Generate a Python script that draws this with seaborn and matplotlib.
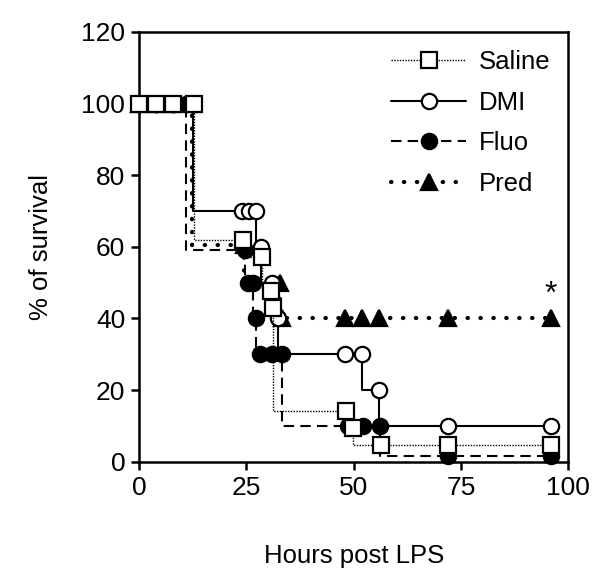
import numpy as np
import pandas as pd
import matplotlib
matplotlib.use("Agg")
import matplotlib.pyplot as plt
import seaborn as sns

# survival data (hours, % survival)
saline_t = [0, 4, 8, 12.8, 24.2, 28.6, 30.7, 31.3, 48.3, 49.9, 56.3, 72, 96]
saline_s = [100, 100, 100, 100, 61.9, 57.1, 47.6, 42.9, 14.3, 9.5, 4.8, 4.8, 4.8]

dmi_t = [0, 4, 8, 12.5, 24.1, 25.6, 27.2, 28.3, 31, 32.3, 48, 52, 56, 72, 96]
dmi_s = [100, 100, 100, 100, 70, 70, 70, 60, 50, 40, 30, 30, 20, 10, 10]

fluo_t = [0, 4, 8, 11, 24.6, 25.5, 26.5, 27.2, 28.2, 30.9, 33.2, 48.7, 52.2, 56.1, 72, 96]
fluo_s = [100, 100, 100, 100, 59, 50, 50, 40, 30, 30, 30, 10, 10, 10, 1.5, 1.5]

pred_t = [0, 4, 8, 12.3, 24.5, 32.8, 33.2, 48, 52, 56, 72, 96]
pred_s = [100, 100, 100, 100, 60.5, 50, 40, 40, 40, 40, 40, 40]

groups = ["Saline", "DMI", "Fluo", "Pred"]

rows = []
for g, t, s in zip(groups, [saline_t, dmi_t, fluo_t, pred_t], [saline_s, dmi_s, fluo_s, pred_s]):
    for a, b in zip(t, s):
        rows.append({"group": g, "hours": a, "survival": b})
df = pd.DataFrame(rows)

sns.set_style("ticks", {"axes.edgecolor": "black", "xtick.color": "black", "ytick.color": "black",
                        "text.color": "black", "axes.labelcolor": "black"})
plt.rcParams["font.family"] = ["Liberation Sans", "DejaVu Sans"]

fig = plt.figure(figsize=(6, 5.86), dpi=100)
ax = fig.add_axes([0.2317, 0.2121, 0.7155, 0.7333])

styles = {
    "Saline": dict(linestyle=(0, (1, 1)), linewidth=1.0, marker="s", markerfacecolor="white", zorder=6),
    "DMI": dict(linestyle="-", linewidth=1.5, marker="o", markerfacecolor="white", zorder=5),
    "Fluo": dict(linestyle=(0, (5, 3)), linewidth=1.5, marker="o", markerfacecolor="black", zorder=4),
    "Pred": dict(linestyle=(0, (0.1, 3)), linewidth=3.0, dash_capstyle="round", marker="^",
                 markerfacecolor="black", zorder=3),
}

# draw back to front so the squares sit on top
for g in ["Pred", "Fluo", "DMI", "Saline"]:
    sub = df[df["group"] == g]
    sns.lineplot(data=sub, x="hours", y="survival", ax=ax, estimator=None, sort=False,
                 color="black", drawstyle="steps-pre", markersize=11,
                 markeredgecolor="black", markeredgewidth=1.6, clip_on=False,
                 label=g, **styles[g])

ax.text(96, 42.5, "*", ha="center", va="bottom", fontsize=23, color="black")

ax.set_xlim(0, 100)
ax.set_ylim(0, 120)
ax.set_xticks([0, 25, 50, 75, 100])
ax.set_yticks(np.arange(0, 121, 20))
ax.tick_params(direction="out", length=6, width=1.8, labelsize=19, pad=4,
               colors="black")
for sp in ax.spines.values():
    sp.set_linewidth(1.8)
    sp.set_visible(True)
    sp.set_color("black")

ax.set_xlabel("Hours post LPS", fontsize=18.5, labelpad=32, color="black")
ax.set_ylabel("% of survival", fontsize=18.5, labelpad=20, color="black")

handles, labels = ax.get_legend_handles_labels()
order = [labels.index(g) for g in groups]
leg = ax.legend([handles[i] for i in order], groups, loc="upper right", frameon=False,
                fontsize=18.5, handlelength=2.9, handletextpad=0.5, labelspacing=0.65,
                borderaxespad=0.3)
for t in leg.get_texts():
    t.set_color("black")

fig.savefig("out.png", dpi=100)
